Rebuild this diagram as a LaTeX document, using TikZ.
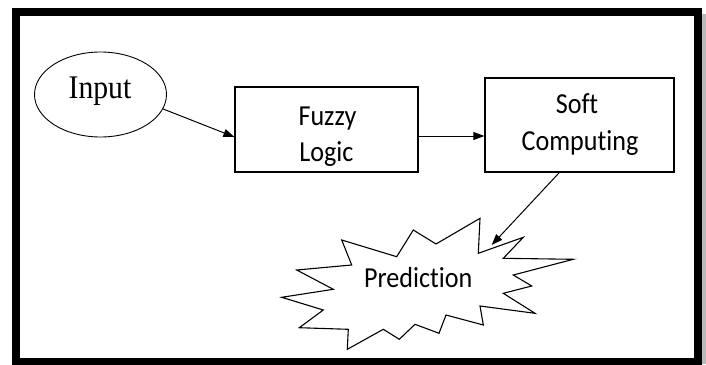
\documentclass[tikz,border=0pt]{standalone}
\usepackage{graphicx}
\usepackage{fontspec}
\setmainfont{Carlito}[Ligatures=NoCommon]
\newfontfamily\timesf{Liberation Serif}
\usetikzlibrary{arrows.meta,shapes.geometric,calc}
\newcommand{\sx}[1]{\scalebox{0.9}[1]{#1}}
\begin{document}
\begin{tikzpicture}[x=1pt,y=-1pt,
  boxnode/.style={draw, rectangle, line width=1.2pt, inner sep=0pt},
  lbl/.style={anchor=base, inner sep=0pt, font=\fontsize{29}{35}\selectfont},
  arr/.style={-{Triangle[length=11pt,width=8pt]}, line width=1pt}]
\useasboundingbox (0,0) rectangle (706,364);
\fill[white] (0,0) rectangle (706,364);
\fill[gray!55] (702,14) rectangle (706,364);
\draw[line width=8pt] (16,12) rectangle (698,362);

% Input ellipse
\node[draw, ellipse, line width=0.9pt, minimum width=132pt, minimum height=85pt, inner sep=0pt] (input) at (100.5,94.5) {};
\node[anchor=base, inner sep=0pt, font=\timesf\fontsize{33}{40}\selectfont] (inputtxt) at (100,98.3) {\sx{Input}};

% Fuzzy Logic box
\node[boxnode, minimum width=183pt, minimum height=85pt] (fuzzy) at (326.5,129.5) {};
\node[lbl] (fuzzytxt) at (327.5,125) {\sx{Fuzzy}};
\node[lbl] (logictxt) at (326.5,161.7) {\sx{Logic}};

% Soft Computing box
\node[boxnode, minimum width=189pt, minimum height=94pt] (soft) at (579.5,125) {};
\node[lbl] (softtxt) at (577,113.3) {\sx{Soft}};
\node[lbl] (comptxt) at (580,150) {\sx{Computing}};

% Prediction starburst
\draw[fill=white, line width=1.1pt, line join=miter]
  (341.7,240) -- (396.7,256.7) -- (413.3,230) -- (436,244) -- (480,218.3)
  -- (478.3,253.3) -- (523.3,237.3) -- (503.3,258.3) -- (573.3,259.3)
  -- (513.3,275) -- (531.7,286) -- (503.3,293.3) -- (535,313.3)
  -- (480,306) -- (483.3,325) -- (446,315) -- (439,333.3) -- (415,324.3)
  -- (399.3,339.3) -- (383.3,329.3) -- (347.3,349.3) -- (348.3,329.3)
  -- (299.3,327.7) -- (323.3,310) -- (281.7,297.3) -- (333.3,289.3)
  -- (296.7,270) -- (351.7,265) -- cycle;
\node[lbl] (pred) at (418.3,287.3) {\sx{Prediction}};

% connectors
\coordinate (r1) at (0,137);
\coordinate (r2) at (0,136);
\coordinate (sc) at (559.3,0);
\coordinate (ptip) at (491.7,245);
\draw[arr] (input.-13) -- (fuzzy.west |- r1);
\draw[arr] (fuzzy.east |- r2) -- (soft.west |- r2);
\draw[arr] (soft.south -| sc) -- (ptip);
\end{tikzpicture}
\end{document}
